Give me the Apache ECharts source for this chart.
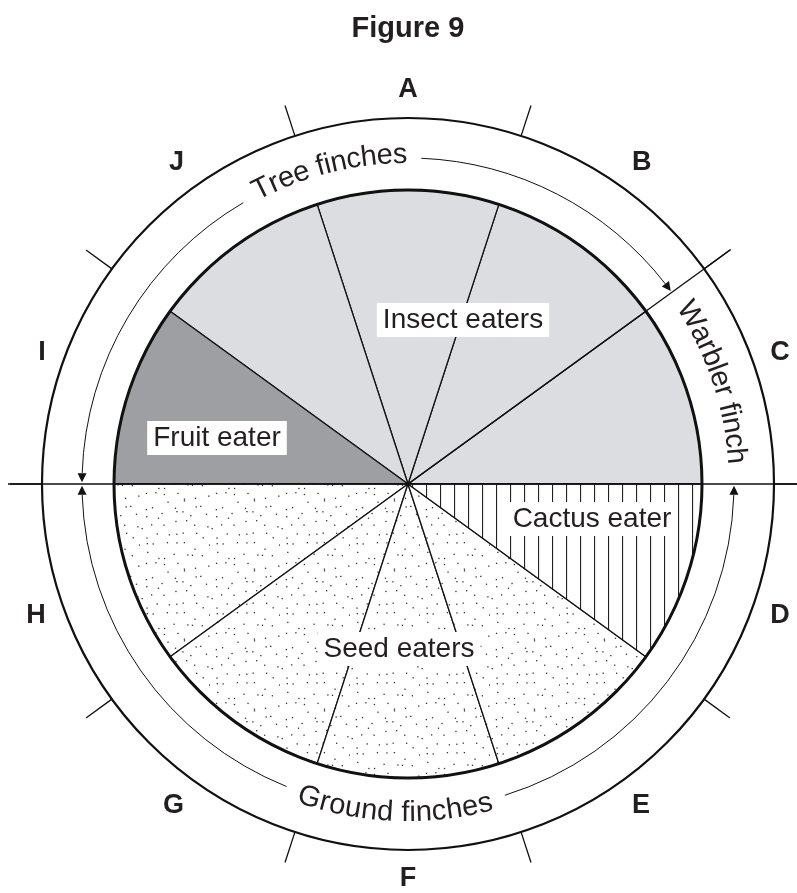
<!DOCTYPE html>
<html>
<head>
<meta charset="utf-8">
<title>Figure 9</title>
<script src="https://cdn.jsdelivr.net/npm/echarts@6/dist/echarts.min.js"></script>
<style>
  html, body { margin: 0; padding: 0; background: #fff; }
  #chart { width: 797px; height: 893px; }
</style>
</head>
<body>
<div id="chart"></div>
<script>
// sectors listed counterclockwise, starting from the right-hand horizontal
const sectors = ['C', 'B', 'A', 'J', 'I', 'H', 'G', 'F', 'E', 'D']
const shares = [1, 1, 1, 1, 1, 1, 1, 1, 1, 1]
const diets = ['Warbler finch', 'Insect eaters', 'Insect eaters', 'Insect eaters', 'Fruit eater',
  'Seed eaters', 'Seed eaters', 'Seed eaters', 'Seed eaters', 'Cactus eater']
const lineages = ['Warbler finch', 'Tree finches', 'Tree finches', 'Tree finches', 'Tree finches',
  'Ground finches', 'Ground finches', 'Ground finches', 'Ground finches', 'Ground finches']

// layout (not data)
const CX = 408, CY = 484
const R_PIE = 294, R_OUT = 366, R_ARC = 326, R_TEXT = 329
const FAMILY = '"Liberation Sans", Arial, Helvetica, sans-serif'
const INK = '#231f20'
const RAD = Math.PI / 180
const labelPos = {
  'Insect eaters': [463, 320],
  'Fruit eater': [217, 438],
  'Cactus eater': [592, 519],
  'Seed eaters': [399, 649],
}
const curveMid = { 'Tree finches': 104, 'Warbler finch': 18.4, 'Ground finches': 267.7 }

function dotTile() {
  const c = document.createElement('canvas')
  c.width = 70; c.height = 70
  const g = c.getContext('2d')
  g.fillStyle = '#fff'; g.fillRect(0, 0, 70, 70)
  g.fillStyle = '#333'
  let s = 12345
  const next = () => { s = (s * 1103515245 + 12345) % 2147483648; return s / 2147483648 }
  for (let i = 0; i < 7; i++) {
    for (let j = 0; j < 7; j++) {
      g.fillRect(i * 10 + next() * 9, j * 10 + next() * 9, 1.3, 1.3)
    }
  }
  return c
}

function hatchTile() {
  const c = document.createElement('canvas')
  c.width = 14; c.height = 4
  const g = c.getContext('2d')
  g.fillStyle = '#fff'; g.fillRect(0, 0, 14, 4)
  g.fillStyle = '#222'; g.fillRect(6, 0, 1.1, 4)
  return c
}

const fills = {
  'Warbler finch': '#dcdde0',
  'Insect eaters': '#dcdde0',
  'Fruit eater': '#9e9fa3',
  'Seed eaters': { image: dotTile(), repeat: 'repeat' },
  'Cactus eater': { image: hatchTile(), repeat: 'repeat' },
}

const total = shares.reduce((a, b) => a + b, 0)
const startDeg = shares.map((_, i) => shares.slice(0, i).reduce((a, b) => a + b, 0) / total * 360)
const endDeg = shares.map((v, i) => startDeg[i] + v / total * 360)

const pt = (deg, r) => [CX + r * Math.cos(deg * RAD), CY - r * Math.sin(deg * RAD)]

const measure = document.createElement('canvas').getContext('2d')

const graphics = []

// inner rim
graphics.push({
  type: 'circle', z: 30, silent: true,
  shape: { cx: CX, cy: CY, r: R_PIE },
  style: { fill: null, stroke: '#111', lineWidth: 3 },
})

// lineage boundaries run out past the ring
const spans = {}
lineages.forEach((l, i) => {
  if (!spans[l]) spans[l] = [startDeg[i], endDeg[i]]
  else spans[l][1] = endDeg[i]
})
const bounds = new Set()
Object.values(spans).forEach(s => { bounds.add(s[0] % 360); bounds.add(s[1] % 360) })
bounds.forEach(deg => {
  const horiz = Math.abs(Math.sin(deg * RAD)) < 1e-6
  const end = horiz ? [deg === 0 ? 797 : 8, CY] : pt(deg, 399)
  graphics.push({
    type: 'line', z: 30, silent: true,
    shape: { x1: CX, y1: CY, x2: end[0], y2: end[1] },
    style: { stroke: '#111', lineWidth: 1.4 },
  })
})

function arcEl(a1, a2) {
  return {
    type: 'arc', z: 30, silent: true,
    shape: { cx: CX, cy: CY, r: R_ARC, startAngle: -a2 * RAD, endAngle: -a1 * RAD, clockwise: true },
    style: { stroke: '#111', lineWidth: 1, fill: null },
  }
}

function arrowEl(tipDeg, sign) {
  const t = tipDeg * RAD
  const p = pt(tipDeg, R_ARC)
  const d = [-Math.sin(t) * sign, -Math.cos(t) * sign]
  const n = [-d[1], d[0]]
  const L = 9, W = 4.5
  const b = [p[0] - d[0] * L, p[1] - d[1] * L]
  return {
    type: 'polygon', z: 31, silent: true,
    shape: { points: [p, [b[0] + n[0] * W, b[1] + n[1] * W], [b[0] - n[0] * W, b[1] - n[1] * W]] },
    style: { fill: '#111' },
  }
}

function curvedText(text, mid, r, outward) {
  const font = '29px ' + FAMILY
  measure.font = font
  const chars = [...text]
  const widths = chars.map(ch => measure.measureText(ch).width)
  const tot = widths.reduce((a, b) => a + b, 0)
  let cursor = 0
  chars.forEach((ch, k) => {
    const off = (cursor + widths[k] / 2) / r / RAD
    const deg = outward ? mid + tot / 2 / r / RAD - off : mid - tot / 2 / r / RAD + off
    const p = pt(deg, r)
    cursor += widths[k]
    if (ch === ' ') return
    graphics.push({
      type: 'text', z: 32, silent: true,
      x: p[0], y: p[1],
      rotation: (deg - (outward ? 90 : 270)) * RAD,
      style: {
        text: ch, font: font, fill: INK,
        align: 'center', verticalAlign: 'middle',
        textAlign: 'center', textVerticalAlign: 'middle',
      },
    })
  })
  return tot / r / RAD
}

Object.keys(spans).forEach(name => {
  const [a, b] = spans[name]
  const mid = curveMid[name]
  const outward = mid < 180
  const width = curvedText(name, mid, R_TEXT, outward)
  if (b - a <= 36) return
  const eps = 0.3, Ldeg = 9 / R_ARC / RAD, gap = 14 / R_ARC / RAD
  graphics.push(arcEl(a + eps + Ldeg, mid - width / 2 - gap))
  graphics.push(arcEl(mid + width / 2 + gap, b - eps - Ldeg))
  graphics.push(arrowEl(a + eps, -1))
  graphics.push(arrowEl(b - eps, 1))
})

// diet labels inside the pie
Object.keys(labelPos).forEach(name => {
  graphics.push({
    type: 'text', z: 33, silent: true,
    x: labelPos[name][0], y: labelPos[name][1],
    style: {
      text: name, font: '28px ' + FAMILY, fill: INK,
      align: 'center', verticalAlign: 'middle',
      textAlign: 'center', textVerticalAlign: 'middle',
      backgroundColor: '#fff', padding: [4, 6, 2, 6],
    },
  })
})

const chart = echarts.init(document.getElementById('chart'), null, { renderer: 'canvas' })

chart.setOption({
  animation: false,
  title: {
    text: 'Figure 9',
    left: 408,
    top: 14,
    textAlign: 'center',
    padding: 0,
    textStyle: { color: INK, fontSize: 29, fontWeight: 'bold', fontFamily: FAMILY },
  },
  polar: { center: [CX, CY], radius: [0, R_OUT] },
  angleAxis: {
    type: 'category',
    data: sectors,
    startAngle: 0,
    clockwise: false,
    boundaryGap: true,
    silent: true,
    z: 20,
    axisLine: { lineStyle: { color: '#111', width: 2.2 } },
    axisTick: { show: true, inside: false, length: 32, interval: 0, lineStyle: { color: '#111', width: 1.3 } },
    axisLabel: { margin: 15, interval: 0, color: INK, fontSize: 27, fontWeight: 'bold', fontFamily: FAMILY },
    splitLine: { show: false },
    splitArea: { show: false },
  },
  radiusAxis: { show: false, min: 0, max: 1 },
  series: [
    {
      type: 'pie',
      center: [CX, CY],
      radius: [0, R_PIE],
      startAngle: 0,
      clockwise: false,
      silent: true,
      z: 2,
      label: { show: false },
      labelLine: { show: false },
      emphasis: { disabled: true },
      itemStyle: { borderColor: '#111', borderWidth: 1.3 },
      data: sectors.map((s, i) => ({
        name: s,
        value: shares[i],
        itemStyle: { color: fills[diets[i]] },
      })),
    },
  ],
  graphic: { elements: graphics },
})
</script>
</body>
</html>
